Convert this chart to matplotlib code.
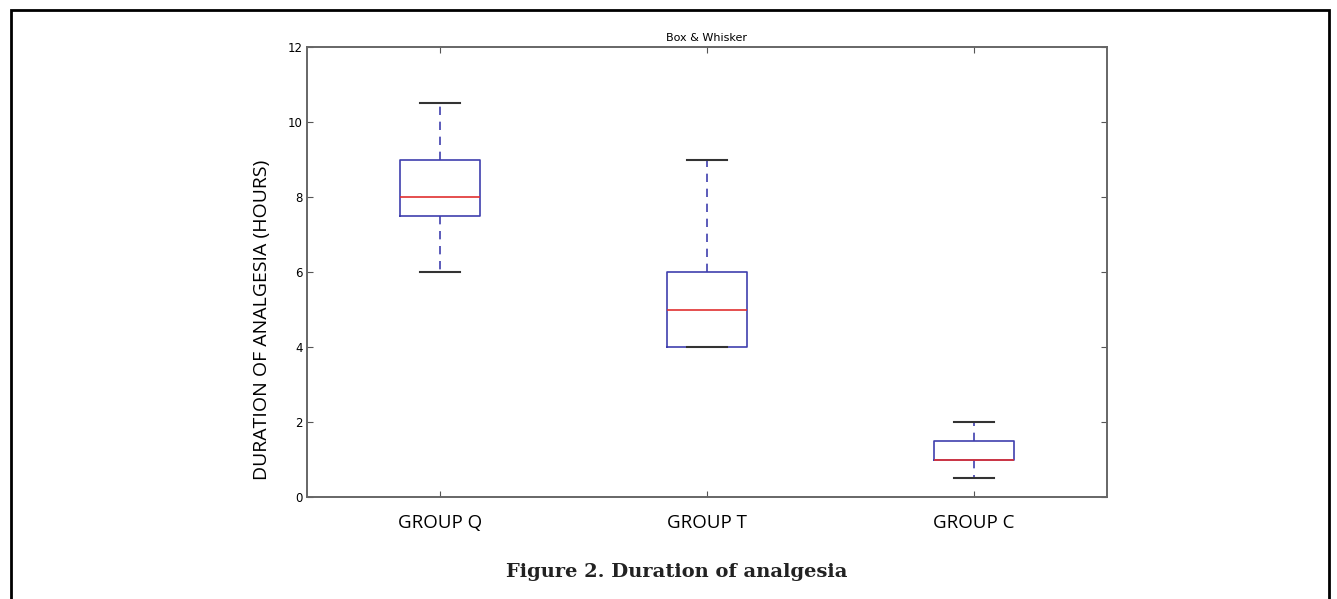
import matplotlib
matplotlib.use("Agg")
import matplotlib.pyplot as plt
from matplotlib.patches import Rectangle

groups = ["GROUP Q", "GROUP T", "GROUP C"]
whislo = [6.0, 4.0, 0.5]
q1 = [7.5, 4.0, 1.0]
med = [8.0, 5.0, 1.0]
q3 = [9.0, 6.0, 1.5]
whishi = [10.5, 9.0, 2.0]

stats = []
for i in range(len(groups)):
    stats.append(dict(label=groups[i], whislo=whislo[i], q1=q1[i], med=med[i],
                      q3=q3[i], whishi=whishi[i], fliers=[]))

fig = plt.figure(figsize=(13.37, 5.99), dpi=100)
ax = fig.add_axes([307/1337, 1 - 497/599, 800/1337, 450/599])

blue = "#3f3fae"
ax.bxp(stats, positions=[1, 2, 3], widths=0.3, capwidths=0.15, showfliers=False,
       boxprops=dict(color=blue, linewidth=1.2),
       whiskerprops=dict(color=blue, linewidth=1.2, linestyle=(0, (5, 4))),
       capprops=dict(color="#333333", linewidth=1.5),
       medianprops=dict(color="#e03030", linewidth=1.2))

ax.set_xlim(0.5, 3.5)
ax.set_ylim(0, 12)
ax.set_yticks([0, 2, 4, 6, 8, 10, 12])
ax.set_xticks([1, 2, 3])
ax.set_xticklabels(groups, family="Open Sans", fontsize=13.5)
ax.tick_params(axis="y", labelsize=8.5, direction="in", length=4, right=True, color="#555555", pad=3)
ax.tick_params(axis="x", direction="in", length=4, top=True, color="#555555", pad=12)
for s in ax.spines.values():
    s.set_color("#666666")
    s.set_linewidth(1.4)

ax.set_title("Box & Whisker", fontsize=8, pad=4)
fig.text(262/1337, 1 - 320/599, "DURATION OF ANALGESIA (HOURS)", rotation=90,
         family="Open Sans", fontsize=14, ha="center", va="center")
fig.text(677/1337, 1 - 577/599, "Figure 2. Duration of analgesia", color="#222222",
         family="DejaVu Serif", fontweight="bold", fontsize=14, ha="center", va="baseline")

fig.patches.append(Rectangle((11/1337, -0.1), 1318/1337, 1.1 - 10/599, transform=fig.transFigure,
                             fill=False, edgecolor="black", linewidth=2))

fig.savefig("out.png", dpi=100)
